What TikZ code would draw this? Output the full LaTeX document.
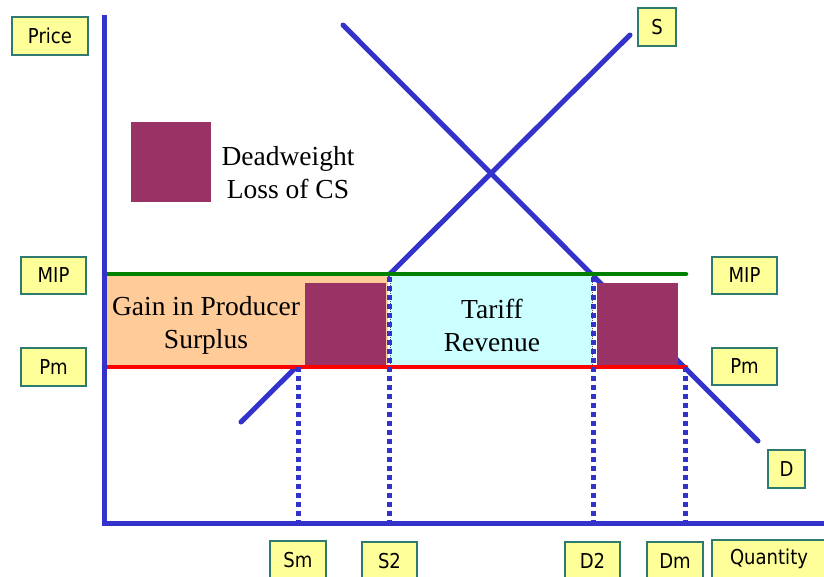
\documentclass[tikz,border=0pt]{standalone}
\usepackage{fontspec}
\setmainfont{Liberation Serif}
\newfontfamily\lblfont[FakeStretch=0.88]{DejaVu Sans}
\definecolor{axisblue}{HTML}{3333CC}
\definecolor{mipgreen}{HTML}{008000}
\definecolor{pmred}{HTML}{FF0000}
\definecolor{dwlpurple}{HTML}{993366}
\definecolor{psorange}{HTML}{FFCC99}
\definecolor{trcyan}{HTML}{CCFFFF}
\definecolor{lblyellow}{HTML}{FFFF99}
\definecolor{lblborder}{HTML}{2E7A6E}
\tikzset{
  lbl/.style={draw=lblborder, line width=1.3pt, fill=lblyellow, inner sep=0pt,
    font=\lblfont\fontsize{20.5}{24}\selectfont, text=black},
  curve/.style={draw=axisblue, line width=5pt, line cap=round},
  axisline/.style={draw=axisblue, line width=5pt},
  guide/.style={draw=axisblue, line width=5pt, dash pattern=on 4.5pt off 4.5pt},
  bigtext/.style={font=\fontsize{27.5}{33}\selectfont, align=center, text=black},
}
\begin{document}
\begin{tikzpicture}[x=1pt, y=-1pt]
\useasboundingbox (0,0) rectangle (824,576);
% key coordinates
\coordinate (Sstart) at (241,422);
\coordinate (Send) at (630,35);
\coordinate (Dstart) at (343,25);
\coordinate (Dend) at (758,441);
\coordinate (origin) at (104,523);
\coordinate (ytop) at (104,15);
\coordinate (xend) at (826,523);
\coordinate (mipL) at (104,274);
\coordinate (mipR) at (686,274);
\coordinate (pmL) at (104,367);
\coordinate (pmR) at (686,367);
\coordinate (smTop) at (298,367);
\coordinate (smBot) at (298,521);
\coordinate (s2Top) at (389,277);
\coordinate (s2Bot) at (389,521);
\coordinate (d2Top) at (593,277);
\coordinate (d2Bot) at (593,521);
\coordinate (dmTop) at (685,367);
\coordinate (dmBot) at (685,521);

% supply and demand
\draw[curve] (Sstart) -- (Send);
\draw[curve] (Dstart) -- (Dend);

% areas
\fill[psorange] (104,274) rectangle (388,367);
\fill[trcyan] (390,275) rectangle (592,366);
\draw[black!70, line width=0.6pt, dash pattern=on 1pt off 1pt] (390,275) rectangle (592,366);
\fill[dwlpurple] (305,283) rectangle (386,366);
\fill[dwlpurple] (597,283) rectangle (678,366);

% price lines
\draw[mipgreen, line width=4.5pt, line cap=round] (mipL) -- (mipR);
\draw[pmred, line width=4.5pt, line cap=round] (pmL) -- (pmR);

% guide lines
\draw[guide] (smTop) -- (smBot);
\draw[guide] (s2Top) -- (s2Bot);
\draw[guide] (d2Top) -- (d2Bot);
\draw[guide] (dmTop) -- (dmBot);

% axes
\draw[axisline] (ytop) -- (origin) -- (xend);

% legend
\fill[dwlpurple] (131,122) rectangle (211,202);
\node[bigtext] (legendtxt) at (288,173) {Deadweight\\Loss of CS};

% area texts
\node[bigtext] (gaintxt) at (206,325) {Gain in Producer\\Surplus};
\node[bigtext] (tarifftxt) at (492,325) {Tariff\\Revenue};

% labels
\node[lbl, minimum width=76pt, minimum height=38pt] (price) at (50,36) {Price};
\node[lbl, minimum width=38pt, minimum height=38pt] (slbl) at (657,27) {S};
\node[lbl, minimum width=37pt, minimum height=38pt] (dlbl) at (786.5,469) {D};
\node[lbl, minimum width=65pt, minimum height=37pt] (mipleft) at (53.5,275.5) {MIP};
\node[lbl, minimum width=65pt, minimum height=38pt] (pmleft) at (53.5,367) {Pm};
\node[lbl, minimum width=65pt, minimum height=37pt] (mipright) at (744.5,275.5) {MIP};
\node[lbl, minimum width=65pt, minimum height=37pt] (pmright) at (744.5,366.5) {Pm};
\node[lbl, minimum width=56pt, minimum height=38pt] (sm) at (298,560) {Sm};
\node[lbl, minimum width=55pt, minimum height=38pt] (s2) at (389.5,561) {S2};
\node[lbl, minimum width=55pt, minimum height=38pt] (d2) at (592.5,561) {D2};
\node[lbl, minimum width=56pt, minimum height=38pt] (dm) at (675,561) {Dm};
\node[lbl, minimum width=114pt, minimum height=38pt] (qty) at (769,559) {Quantity};
\end{tikzpicture}
\end{document}
